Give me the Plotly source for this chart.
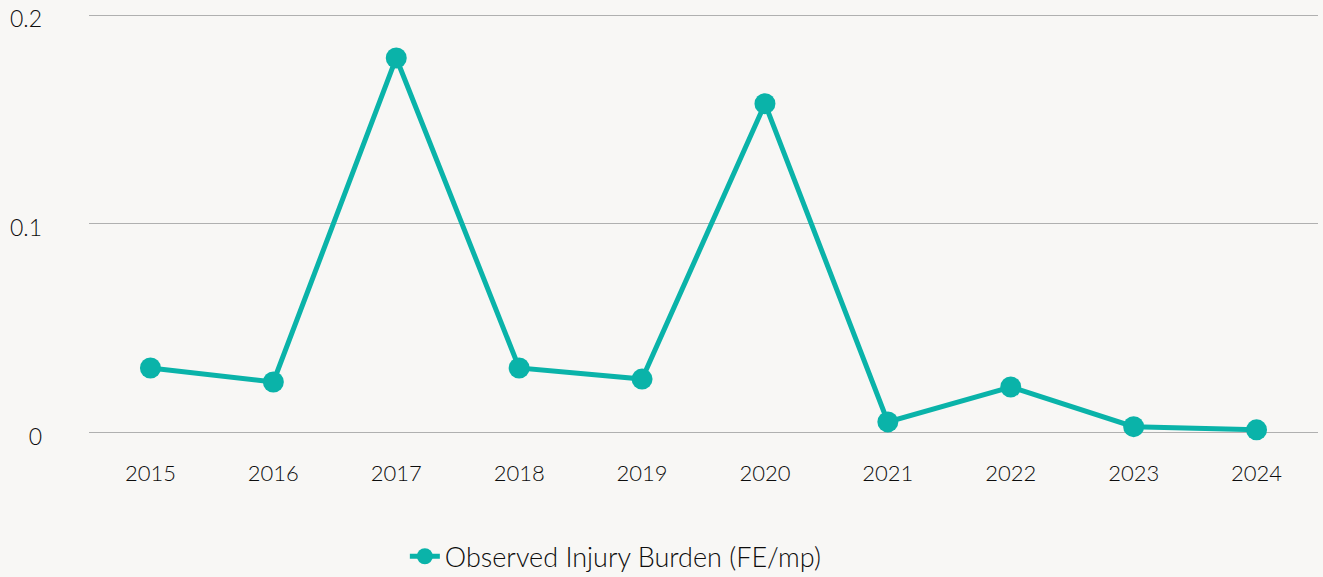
import plotly.graph_objects as go

# Observed injury burden per year (FE/mp)
years = ["2015", "2016", "2017", "2018", "2019", "2020", "2021", "2022", "2023", "2024"]
injury_burden = [0.031, 0.0243, 0.1795, 0.031, 0.0257, 0.1576, 0.0052, 0.0219, 0.0029, 0.0014]
y_ticks = [0, 0.1, 0.2]
y_labels = ["0", "0.1", "0.2"]

bg = "#f8f7f5"
teal = "#0ab3a9"

fig = go.Figure()
fig.add_trace(
    go.Scatter(
        x=years,
        y=injury_burden,
        mode="lines+markers",
        name="Observed Injury Burden (FE/mp)",
        line=dict(color=teal, width=5),
        marker=dict(color=teal, size=21),
        cliponaxis=False,
    )
)

fig.update_layout(
    width=1323,
    height=577,
    paper_bgcolor=bg,
    plot_bgcolor=bg,
    margin=dict(l=89, r=5, t=11, b=138, autoexpand=False),
    font=dict(family="Lato, sans-serif", size=22, color="#0d0d0d", weight=300),
    showlegend=True,
    legend=dict(
        orientation="h",
        x=0.257,
        xanchor="left",
        y=-0.275,
        yanchor="middle",
        font=dict(size=27, weight=300),
        bgcolor="rgba(0,0,0,0)",
    ),
)
fig.update_xaxes(
    type="category",
    range=[-0.5, 9.5],
    showgrid=False,
    showline=False,
    zeroline=False,
    automargin=False,
    ticklabelstandoff=19,
)
fig.update_yaxes(
    range=[-0.003, 0.202],
    tickvals=y_ticks,
    ticktext=y_labels,
    tickfont=dict(size=23),
    showgrid=True,
    gridcolor="#b0b0b0",
    gridwidth=1,
    zeroline=False,
    showline=False,
    automargin=False,
    ticklabelstandoff=46,
    ticklabelshift=4,
)

# drop the default page margin so the figure sits flush in the window
fig.write_html(
    "out.html",
    config={"displayModeBar": False},
    post_script="document.body.style.margin='0';document.body.style.background='%s';" % bg,
)
